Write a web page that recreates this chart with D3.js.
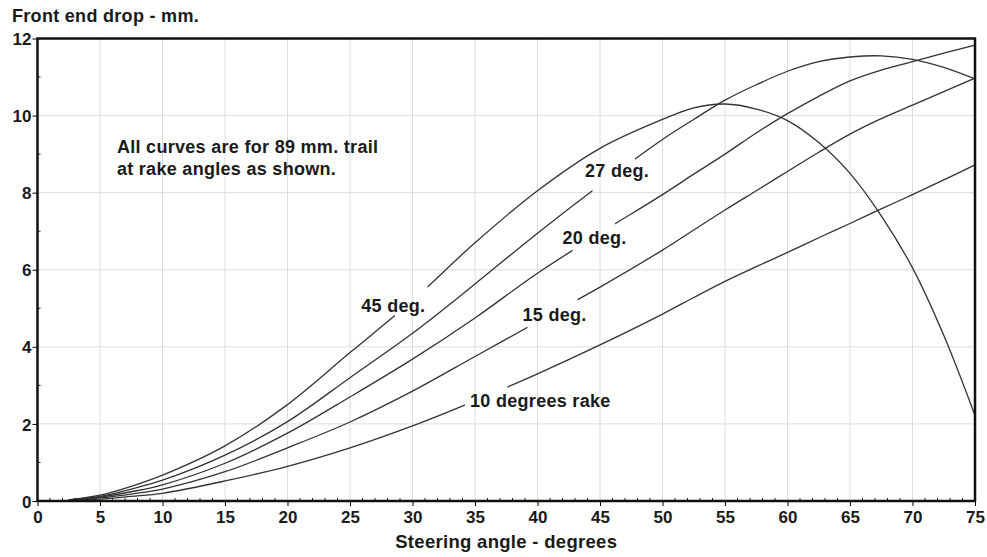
<!DOCTYPE html>
<html>
<head>
<meta charset="utf-8">
<script src="https://cdn.jsdelivr.net/npm/d3@7"></script>
<style>
  html, body { margin: 0; padding: 0; background: #fff; }
  svg text { font-family: "Liberation Sans", Arial, sans-serif; font-weight: bold; fill: #1a1a1a; }
  .grid line { stroke: #dcdcdc; stroke-width: 1; }
  .curve { fill: none; stroke: #333; stroke-width: 1.3; }
</style>
</head>
<body>
<svg id="chart"></svg>
<script>
/* ============================================================
   Front end drop vs steering angle, 89 mm trail
   ============================================================ */

// ─── Data ────────────────────────────────────────────────
const steerAngles = [2.5, 5, 7.5, 10, 15, 20, 25, 30, 35, 40, 45, 50, 52.5, 55, 57.5, 60, 62.5, 65, 67.5, 70, 72.5, 75];

const rake45 = [0.03, 0.15, 0.38, 0.67, 1.43, 2.5, 3.85, 5.2, 6.7, 8.05, 9.15, 9.9, 10.2, 10.3, 10.17, 9.87, 9.3, 8.5, 7.4, 6.05, 4.3, 2.22];
const rake27 = [0.03, 0.12, 0.31, 0.54, 1.19, 2.06, 3.2, 4.35, 5.63, 6.95, 8.2, 9.38, 9.9, 10.4, 10.8, 11.15, 11.4, 11.52, 11.55, 11.46, 11.25, 10.95];
const rake20 = [0.03, 0.1, 0.24, 0.42, 0.98, 1.76, 2.7, 3.68, 4.75, 5.91, 6.95, 7.95, 8.48, 9.0, 9.55, 10.05, 10.5, 10.9, 11.18, 11.4, 11.62, 11.83];
const rake15 = [0.03, 0.08, 0.18, 0.31, 0.76, 1.38, 2.05, 2.85, 3.75, 4.65, 5.55, 6.51, 7.03, 7.55, 8.05, 8.55, 9.05, 9.52, 9.92, 10.27, 10.62, 10.97];
const rake10 = [0.03, 0.05, 0.12, 0.2, 0.52, 0.9, 1.38, 1.95, 2.6, 3.3, 4.05, 4.85, 5.28, 5.7, 6.08, 6.45, 6.83, 7.2, 7.58, 7.95, 8.33, 8.72];

const seriesNames = ['45 deg.', '27 deg.', '20 deg.', '15 deg.', '10 degrees rake'];
const seriesValues = [rake45, rake27, rake20, rake15, rake10];
// where each curve is broken for its label (steering angle, degrees)
const gapFrom = [28.6, 44.4, 42.8, 39.2, 34.2];
const gapTo   = [31.2, 47.8, 46.2, 43.2, 37.6];
// label anchor (steering angle, drop mm)
const labelAngle = [25.9, 43.8, 42.0, 38.8, 34.6];
const labelDrop  = [5.08, 8.57, 6.83, 4.83, 2.6];

const xTicks = d3.range(0, 76, 5);
const yTicks = d3.range(0, 13, 2);
const noteLines = ['All curves are for 89 mm. trail', 'at rake angles as shown.'];

// ─── Layout ──────────────────────────────────────────────
const W = 987, H = 557;
const M = { top: 38.5, right: 12, bottom: 56, left: 37.5 };

const svg = d3.select('#chart').attr('width', W).attr('height', H);
svg.append('rect').attr('width', W).attr('height', H).attr('fill', '#fff');

const x = d3.scaleLinear().domain([0, 75]).range([M.left, W - M.right]);
const y = d3.scaleLinear().domain([0, 12]).range([H - M.bottom, M.top]);

// Grid
const grid = svg.append('g').attr('class', 'grid');
grid.selectAll('.gx').data(xTicks.slice(1, -1)).enter().append('line')
  .attr('x1', d => x(d)).attr('x2', d => x(d))
  .attr('y1', y(0)).attr('y2', y(12));
grid.selectAll('.gy').data(yTicks.slice(1, -1)).enter().append('line')
  .attr('x1', x(0)).attr('x2', x(75))
  .attr('y1', d => y(d)).attr('y2', d => y(d));

// Curves, each clipped so it breaks around its label
const line = d3.line()
  .x(d => x(d[0]))
  .y(d => y(d[1]))
  .curve(d3.curveCatmullRom.alpha(0.5));

const defs = svg.append('defs');
seriesValues.forEach((vals, i) => {
  const cp = defs.append('clipPath').attr('id', 'gap-' + i);
  cp.append('rect')
    .attr('x', 0).attr('y', 0)
    .attr('width', x(gapFrom[i])).attr('height', H);
  cp.append('rect')
    .attr('x', x(gapTo[i])).attr('y', 0)
    .attr('width', W - x(gapTo[i])).attr('height', H);

  svg.append('path')
    .attr('class', 'curve')
    .attr('clip-path', `url(#gap-${i})`)
    .attr('d', line(steerAngles.map((a, k) => [a, vals[k]])));
});

// Curve labels
svg.selectAll('.curve-label')
  .data(seriesNames).enter().append('text')
  .attr('class', 'curve-label')
  .attr('x', (d, i) => x(labelAngle[i]))
  .attr('y', (d, i) => y(labelDrop[i]))
  .attr('dy', '0.35em')
  .style('font-size', '18px')
  .style('letter-spacing', '0.3px')
  .text(d => d);

// Note text
svg.selectAll('.note')
  .data(noteLines).enter().append('text')
  .attr('class', 'note')
  .attr('x', x(6.35))
  .attr('y', (d, i) => y(9.2) + i * 22)
  .attr('dy', '0.35em')
  .style('font-size', '18px')
  .style('letter-spacing', '0.3px')
  .text(d => d);

// Axes
const xAxis = d3.axisBottom(x).tickValues(xTicks).tickSize(5).tickSizeOuter(0);
const gx = svg.append('g').attr('transform', `translate(0,${y(0)})`).call(xAxis);
gx.select('.domain').remove();
gx.selectAll('text').attr('dy', 0).attr('y', 22).style('font-size', '17px');

const yAxis = d3.axisLeft(y).tickValues(yTicks).tickSize(5).tickSizeOuter(0);
const gy = svg.append('g').attr('transform', `translate(${x(0)},0)`).call(yAxis);
gy.select('.domain').remove();
gy.selectAll('text').attr('x', -6).attr('dy', '0.36em').style('font-size', '17px');

// Minor ticks (inward)
svg.append('g').selectAll('line')
  .data(d3.range(1, 75).filter(d => d % 5 !== 0)).enter().append('line')
  .attr('x1', d => x(d)).attr('x2', d => x(d))
  .attr('y1', y(0)).attr('y2', y(0) - 3)
  .attr('stroke', '#222').attr('stroke-width', 1);
svg.append('g').selectAll('line')
  .data(d3.range(1, 12, 2)).enter().append('line')
  .attr('x1', x(0)).attr('x2', x(0) + 3)
  .attr('y1', d => y(d)).attr('y2', d => y(d))
  .attr('stroke', '#222').attr('stroke-width', 1);

// Frame
svg.append('rect')
  .attr('x', x(0)).attr('y', y(12))
  .attr('width', x(75) - x(0)).attr('height', y(0) - y(12))
  .attr('fill', 'none').attr('stroke', '#111').attr('stroke-width', 2.5);

// Axis titles
svg.append('text')
  .attr('x', 12).attr('y', 22)
  .style('font-size', '18px')
  .style('letter-spacing', '0.3px')
  .text('Front end drop - mm.');
svg.append('text')
  .attr('x', (x(0) + x(75)) / 2)
  .attr('y', 548)
  .attr('text-anchor', 'middle')
  .style('font-size', '18.5px')
  .style('letter-spacing', '0.3px')
  .text('Steering angle - degrees');
</script>
</body>
</html>
